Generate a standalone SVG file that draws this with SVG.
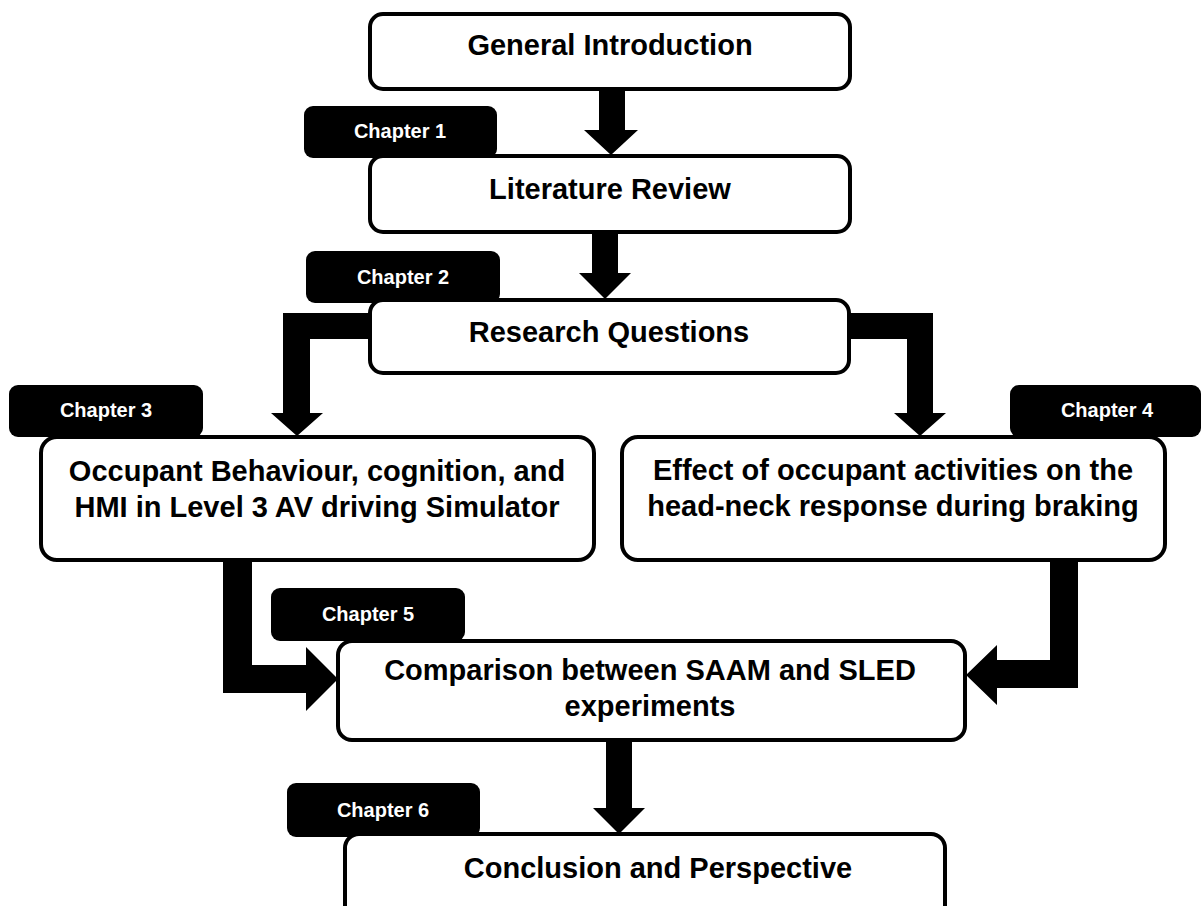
<svg xmlns="http://www.w3.org/2000/svg" width="1202" height="906" viewBox="0 0 1202 906">
<style>
.box{fill:#fff;stroke:#000;stroke-width:4}
.tab{fill:#000}
.t{font-family:"Liberation Sans",Arial,sans-serif;font-weight:bold;font-size:29px;fill:#000;text-anchor:middle}
.c{font-family:"Liberation Sans",Arial,sans-serif;font-weight:bold;font-size:20px;fill:#fff;text-anchor:middle}
.a{fill:#000}
</style>
<rect width="1202" height="906" fill="#fff"/>
<g id="tabs">
<g id="tab1"><rect class="tab" x="304" y="106" width="193" height="52" rx="9"/><text class="c" x="400" y="138">Chapter 1</text></g>
<g id="tab2"><rect class="tab" x="306" y="251" width="194" height="52" rx="9"/><text class="c" x="403" y="284">Chapter 2</text></g>
<g id="tab3"><rect class="tab" x="9" y="385" width="194" height="52" rx="9"/><text class="c" x="106" y="417">Chapter 3</text></g>
<g id="tab4"><rect class="tab" x="1010" y="385" width="191" height="52" rx="9"/><text class="c" x="1107" y="417">Chapter 4</text></g>
<g id="tab5"><rect class="tab" x="271" y="588" width="194" height="53" rx="9"/><text class="c" x="368" y="621">Chapter 5</text></g>
<g id="tab6"><rect class="tab" x="287" y="783" width="193" height="54" rx="9"/><text class="c" x="383" y="817">Chapter 6</text></g>
</g>
<g id="connectors">
<polygon class="a" points="599,88 625,88 625,130 638,130 611,155 584,130 599,130"/>
<polygon class="a" points="592,231 618,231 618,273 631,273 605,299 579,273 592,273"/>
<polygon class="a" points="370,313 370,339 310,339 310,413 323,413 297,436 271,413 283,413 283,313"/>
<polygon class="a" points="848,313 848,339 907,339 907,413 894,413 920,436 946,413 933,413 933,313"/>
<polygon class="a" points="223,558 252,558 252,665 306,665 306,647 338,679 306,711 306,693 223,693"/>
<polygon class="a" points="1078,558 1050,558 1050,660 997,660 997,645 966,675 997,705 997,688 1078,688"/>
<polygon class="a" points="606,739 632,739 632,808 645,808 619,834 593,808 606,808"/>
</g>
<g id="n1"><rect class="box" x="370" y="14" width="480" height="75" rx="13"/><text class="t" x="610" y="55">General Introduction</text></g>
<g id="n2"><rect class="box" x="370" y="156" width="480" height="76" rx="13"/><text class="t" x="610" y="199">Literature Review</text></g>
<g id="n3"><rect class="box" x="370" y="300" width="479" height="73" rx="13"/><text class="t" x="609" y="342">Research Questions</text></g>
<g id="n4"><rect class="box" x="41" y="437" width="553" height="123" rx="16"/><text class="t" x="317" y="481">Occupant Behaviour, cognition, and</text><text class="t" x="317" y="517">HMI in Level 3 AV driving Simulator</text></g>
<g id="n5"><rect class="box" x="622" y="437" width="543" height="123" rx="16"/><text class="t" x="893" y="480">Effect of occupant activities on the</text><text class="t" x="893" y="516">head-neck response during braking</text></g>
<g id="n6"><rect class="box" x="338" y="641" width="627" height="99" rx="14"/><text class="t" x="650" y="680">Comparison between SAAM and SLED</text><text class="t" x="650" y="716">experiments</text></g>
<g id="n7"><rect class="box" x="345" y="834" width="600" height="100" rx="14"/><text class="t" x="658" y="878">Conclusion and Perspective</text></g>
</svg>
